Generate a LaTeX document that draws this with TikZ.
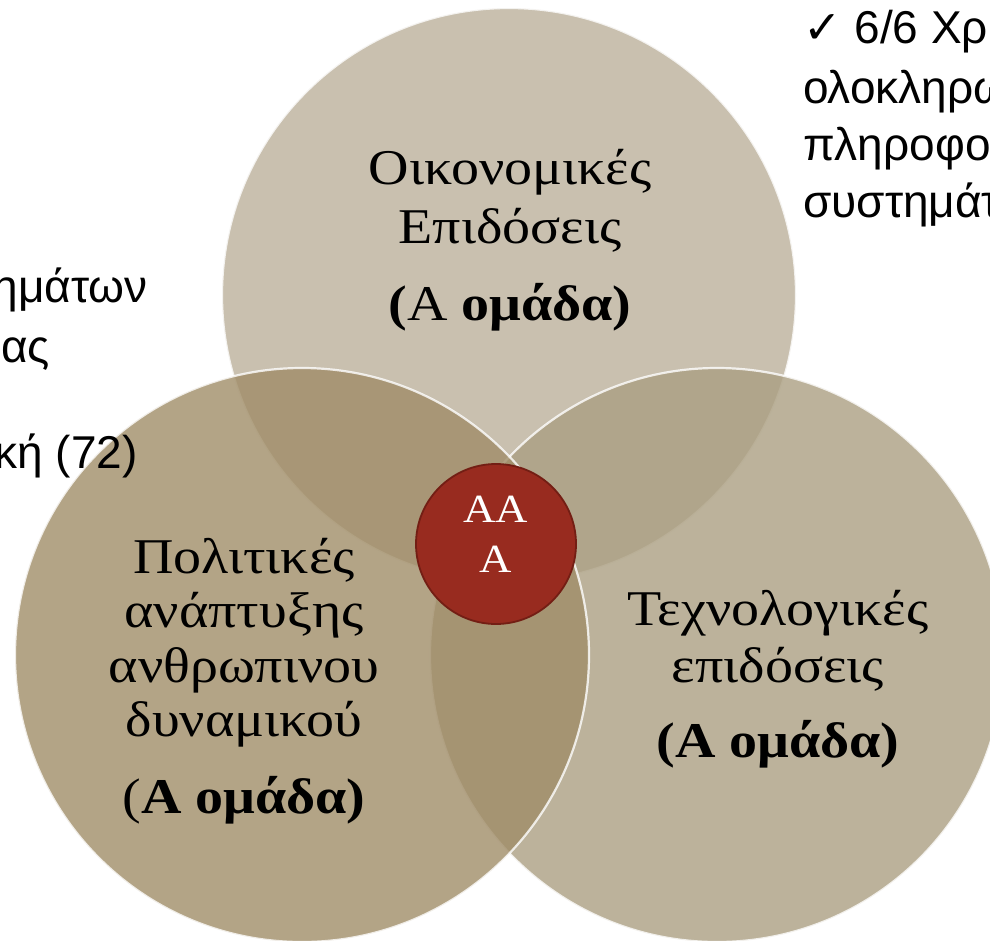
\documentclass[tikz,border=0pt]{standalone}
\usepackage{fontspec}
\setmainfont{Liberation Serif}
\newfontfamily\circfont[FakeStretch=1.12]{Liberation Serif}
\newfontfamily\sidefont{Liberation Sans}
\newfontfamily\checkfont{DejaVu Sans}
\definecolor{topc}{RGB}{187,176,155}
\definecolor{leftc}{RGB}{160,141,104}
\definecolor{rightc}{RGB}{171,159,130}
\definecolor{redc}{RGB}{152,43,31}
\definecolor{redd}{RGB}{115,30,20}
\tikzset{
  vc/.style={circle, inner sep=0pt, minimum size=574pt, draw=white, line width=2.2pt, opacity=0.8},
  redball/.style={circle, inner sep=0pt, minimum size=160pt, fill=redc, draw=redd, line width=1.8pt},
  lab/.style={anchor=base, inner sep=0pt, text=black, font=\circfont\fontsize{50}{58}\selectfont},
  redlab/.style={anchor=base, inner sep=0pt, text=white, font=\circfont\fontsize{40}{48}\selectfont},
  sideR/.style={anchor=base west, inner sep=0pt, text=black, font=\sidefont\fontsize{46}{54}\selectfont},
  sideL/.style={anchor=base east, inner sep=0pt, text=black, font=\sidefont\fontsize{46}{54}\selectfont}
}
\begin{document}
\begin{tikzpicture}[x=1pt,y=-1pt]
\useasboundingbox (0,0) rectangle (990,940);
\clip (0,0) rectangle (990,940);
% circles
\node[vc, fill=topc] (ctop) at (509,295) {};
\node[vc, fill=rightc] (cright) at (717,655) {};
\node[vc, fill=leftc] (cleft) at (302,655) {};
\node[redball] (cred) at (496,544) {};
% top circle text
\node[lab] (t1) at (510,184) {Οικονομικές};
\node[lab] (t2) at (510,243) {Επιδόσεις};
\node[lab] (t3) at (510,320) {\textbf{(}Α\textbf{ ομάδα)}};
% left circle text
\node[lab] (l1) at (244,573) {Πολιτικές};
\node[lab] (l2) at (244,627) {ανάπτυξης};
\node[lab] (l3) at (244,682) {ανθρωπινου};
\node[lab] (l4) at (244,736) {δυναμικού};
\node[lab] (l5) at (244,813) {(\textbf{Α ομάδα)}};
% right circle text
\node[lab] (r1) at (778,625) {Τεχνολογικές};
\node[lab] (r2) at (778,682) {επιδόσεις};
\node[lab] (r3) at (778,757) {\textbf{(Α ομάδα)}};
% red circle text
\node[redlab] (a1) at (496,522) {AA};
\node[redlab] (a2) at (496,572) {A};
% side texts
\node[sideR] (s1) at (803,43) {{\checkfont ✓} 6/6 Χρ};
\node[sideR] (s2) at (803,103) {ολοκληρω};
\node[sideR] (s3) at (803,160) {πληροφο};
\node[sideR] (s4) at (803,217) {συστημάτ};
\node[sideL] (w1) at (148,302) {ημάτων};
\node[sideL] (w2) at (50,362) {ας};
\node[sideL] (w3) at (138,468) {κή (72)};
\end{tikzpicture}
\end{document}
